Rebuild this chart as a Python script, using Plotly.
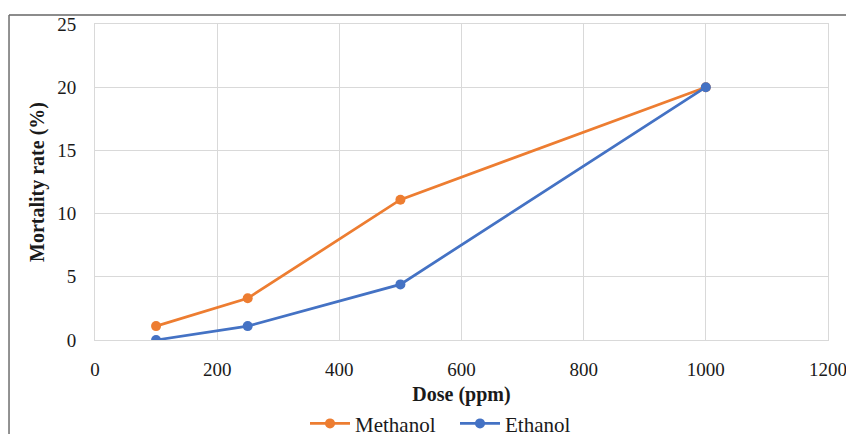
import plotly.graph_objects as go

dose = [100, 250, 500, 1000]
methanol = [1.1, 3.3, 11.1, 20.0]
ethanol = [0.0, 1.1, 4.4, 20.0]
x_ticks = [0, 200, 400, 600, 800, 1000, 1200]
y_ticks = [0, 5, 10, 15, 20, 25]

FONT = "Liberation Serif, Times New Roman, serif"

fig = go.Figure()
fig.add_trace(go.Scatter(x=dose, y=methanol, name="Methanol", mode="lines+markers",
                         line=dict(color="#ED7D31", width=2.75),
                         marker=dict(color="#ED7D31", size=10)))
fig.add_trace(go.Scatter(x=dose, y=ethanol, name="Ethanol", mode="lines+markers",
                         line=dict(color="#4472C4", width=2.75),
                         marker=dict(color="#4472C4", size=10)))

fig.update_layout(
    width=846, height=434,
    margin=dict(l=95, r=18, t=24, b=94, autoexpand=False),
    paper_bgcolor="white", plot_bgcolor="white",
    font=dict(family=FONT, size=19, color="#1a1a1a"),
    showlegend=True,
    legend=dict(orientation="h", x=0.2865, xanchor="left", y=-0.265, yanchor="middle",
                font=dict(size=21), itemwidth=40, entrywidth=95, entrywidthmode="pixels",
                tracegroupgap=0),
    xaxis=dict(range=[0, 1200], tickvals=x_ticks, showgrid=True, gridcolor="#d9d9d9",
               gridwidth=1, zeroline=False, showline=True, linecolor="#d9d9d9", mirror=True,
               ticks="outside", ticklen=12, tickcolor="rgba(0,0,0,0)",
               ticklabeloverflow="allow",
               title=dict(text="<b>Dose (ppm)</b>", font=dict(size=20), standoff=8),
               automargin=False),
    yaxis=dict(range=[0, 25], tickvals=y_ticks, showgrid=True, gridcolor="#d9d9d9",
               gridwidth=1, zeroline=False, showline=True, linecolor="#d9d9d9", mirror=True,
               ticks="outside", ticklen=14, tickcolor="rgba(0,0,0,0)",
               title=dict(text="<b>Mortality rate (%)</b>", font=dict(size=20), standoff=7),
               automargin=False),
    shapes=[
        dict(type="line", xref="paper", yref="paper", x0=-0.1173, x1=1.1, y0=1.0285, y1=1.0285,
             line=dict(color="#8c8c8c", width=2)),
        dict(type="line", xref="paper", yref="paper", x0=-0.1173, x1=-0.1173, y0=1.0285, y1=-0.4,
             line=dict(color="#6e6e6e", width=1.5)),
    ],
)

fig.write_html("out.html")
